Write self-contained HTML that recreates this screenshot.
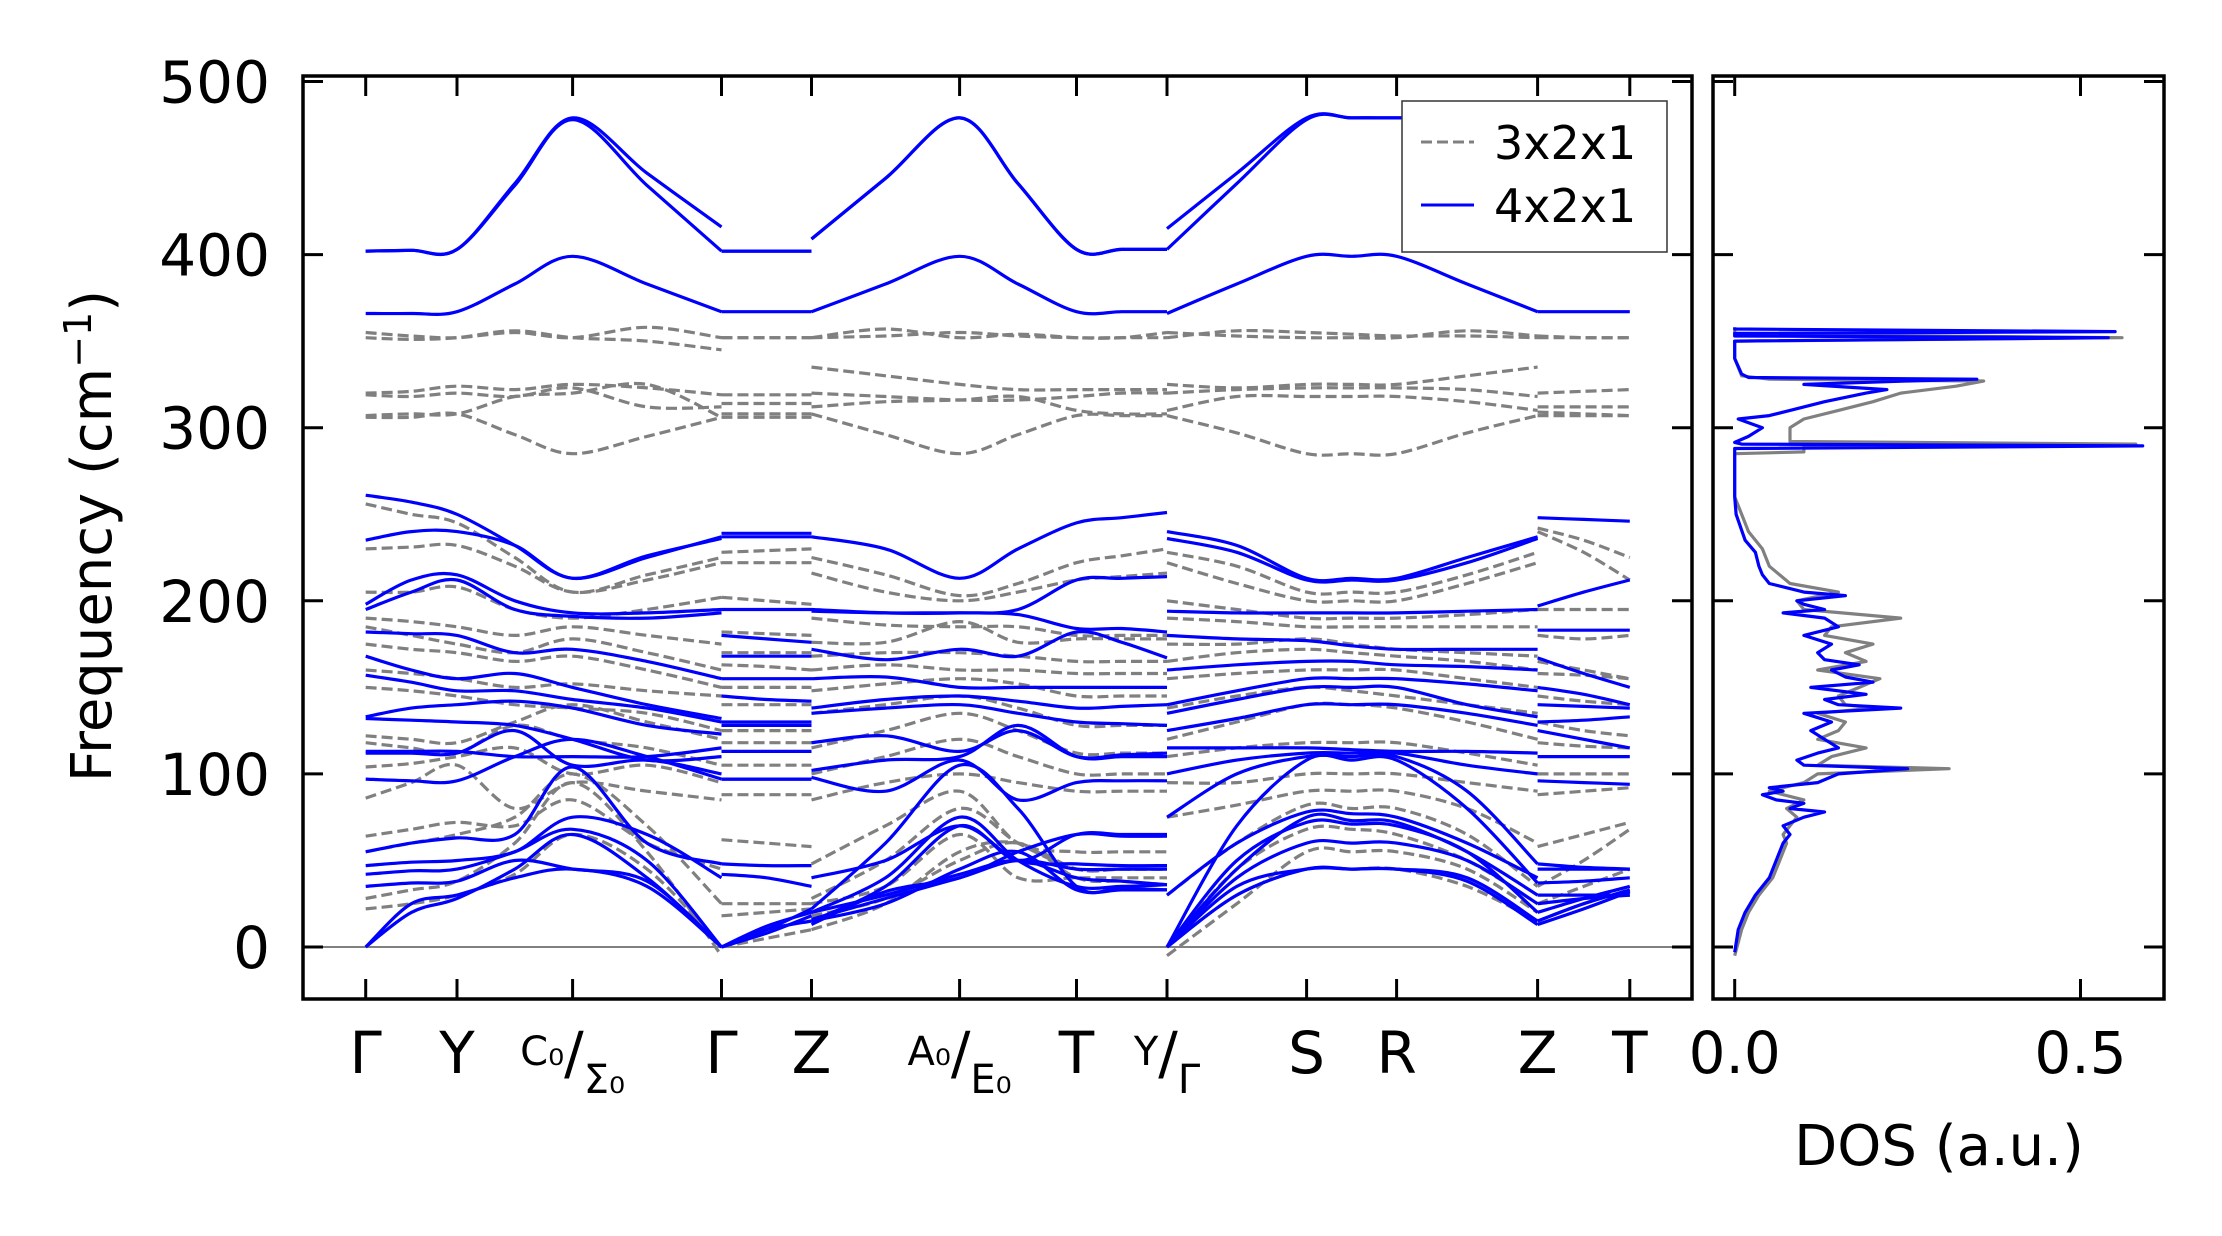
<!DOCTYPE html>
<html><head><meta charset="utf-8"><style>
html,body{margin:0;padding:0;background:#fff;}
svg{display:block;font-family:"DejaVu Sans","Liberation Sans",sans-serif;}
</style></head><body>
<svg id="chart" width="2222" height="1236" viewBox="0 0 2222 1236" xmlns="http://www.w3.org/2000/svg">
<rect x="0" y="0" width="2222" height="1236" fill="#fff"/>
<defs><clipPath id="bandclip"><rect x="303" y="76" width="1389" height="923"/></clipPath>
<clipPath id="dosclip"><rect x="1713" y="76" width="451" height="923"/></clipPath></defs>
<g id="bands" clip-path="url(#bandclip)"></g>
<g id="dos" clip-path="url(#dosclip)"></g>
<g id="axes"></g>
<g id="legend">
  <rect x="1402" y="101" width="265" height="151" fill="#fff" stroke="#333" stroke-width="1.5"/>
  <line x1="1421" y1="142" x2="1474" y2="142" stroke="#808080" stroke-width="3" stroke-dasharray="11,5"/>
  <text x="1494" y="159" font-size="46">3x2x1</text>
  <line x1="1421" y1="205" x2="1474" y2="205" stroke="#0000ff" stroke-width="3"/>
  <text x="1494" y="222" font-size="46">4x2x1</text>
</g>
<text x="0" y="0" font-size="56" text-anchor="middle" transform="translate(111,536) rotate(-90)">Frequency (cm<tspan dy="-20" font-size="38">−1</tspan><tspan dy="20">)</tspan></text>
<text x="1939" y="1165" font-size="56" text-anchor="middle">DOS (a.u.)</text>
</svg>
<script>
// ---- data ----
const yTicks = [0,100,200,300,400,500];
const kLabels = ["Γ","Y","C/Σ","Γ","Z","A/E","T","Y/Γ","S","R","Z","T"];
const kTickX = [365.7,457,572.6,721.5,811.5,959.6,1076.5,1167,1306.6,1396.6,1537.6,1629.8];
const segKs = [[0,0.5,1,1.5,2,2.5,3],[3,3.5,4],[4,4.5,5,5.5,6,6.5,7],[7,7.5,8,8.5,9,9.5,10],[10,10.5,11]];
const blueBands = [
[402,402.5,403,441,479,447,416, 402,402,402, 409,444,479,441,403,403,403, 415,447,479,479,479,479,479, 479,479,479],
[402,402.5,403,440,478,440,402, 402,402,402, 409,444,479,441,403,403,403, 403,441,478,479,479,479,479, 479,479,479],
[366,366,367,383,399,383,367, 367,367,367, 367,383,399,383,367,367,367, 366,383,399,399,399,383,367, 367,367,367],
[261,257,250,232,213,225,237, 239,239,239, 237,230,213,230,245,248,251, 240,232,213,213,213,225,237, 248,247,246],
[235,240,240,232,213,226,236, 237,237,237, 195,193,193,195,212,213,214, 236,228,212,212,212,222,236, 197,205,212],
[198,212,215,200,193,193,195, 195,195,195, 194,193,193,192,184,184,182, 194,193,193,193,193,194,195, 183,183,183],
[195,205,212,195,191,190,193, 180,178,176, 172,166,172,168,182,176,167, 180,178,177,174,172,172,172, 167,158,150],
[182,181,180,170,172,165,155, 168,168,168, 155,156,150,150,150,150,150, 160,163,165,165,163,162,160, 150,146,140],
[168,160,155,158,150,140,132, 155,155,155, 138,143,145,142,138,139,140, 140,148,155,155,155,152,148, 140,139,138],
[157,153,148,148,143,138,130, 145,143,142, 135,138,140,135,130,129,128, 135,143,150,150,150,140,133, 130,131,133],
[133,138,140,142,138,128,123, 130,130,130, 118,122,113,125,110,111,112, 125,132,140,140,140,135,128, 125,120,115],
[132,131,130,128,120,108,110, 128,128,128, 102,108,110,128,110,110,110, 115,115,115,114,113,113,112, 110,110,110],
[113,113,113,110,110,110,115, 113,113,113, 98,90,108,85,95,96,96, 100,108,112,112,112,105,100, 96,95,94],
[112,112,112,125,105,108,100, 97,97,97, 22,60,105,80,35,34,33, 75,100,110,110,110,90,48, 48,46,45],
[97,96,96,110,120,110,97, 97,97,97, 20,40,75,50,35,35,36, 0,70,108,108,108,80,37, 37,38,40],
[55,60,63,65,104,60,48, 48,47,47, 40,50,70,50,48,47,47, 30,60,78,77,75,60,40, 45,45,45],
[47,49,50,55,75,65,40, 42,40,35, 15,35,70,50,65,65,65, 0,50,72,71,70,55,20, 20,28,35],
[42,44,45,55,68,50,0, 0,10,15, 15,25,45,55,33,33,33, 0,30,45,45,45,40,15, 15,25,33],
[35,37,38,50,45,38,0, 0,12,20, 20,30,42,50,40,38,36, 0,35,45,45,45,38,13, 13,22,32],
[0,25,30,40,45,35,0, 0,10,22, 13,32,40,55,65,64,64, 0,40,60,60,60,50,25, 25,28,30],
[0,20,28,45,65,40,0, 0,8,18, 16,28,40,50,45,45,45, 0,45,75,73,72,55,30, 30,30,30]
];
const grayBands = [
[355,353,352,355,352,358,352, 352,352,352, 352,357,352,354,352,352,355, 355,353,352,352,352,356,353, 353,352,352],
[352,351,352,356,352,350,345, 352,352,352, 352,353,355,353,352,352,352, 352,356,355,354,353,353,352, 352,352,352],
[320,321,324,322,325,323,319, 319,319,319, 335,330,325,322,322,322,322, 325,323,325,325,325,330,335, 320,321,322],
[319,318,320,318,323,312,312, 314,314,314, 320,318,316,316,318,320,320, 320,322,323,323,323,322,318, 312,312,312],
[307,308,308,318,320,325,306, 308,308,308, 312,315,316,318,310,308,308, 310,318,318,318,318,315,310, 309,308,307],
[306,306,308,296,285,295,306, 306,306,306, 308,296,285,296,307,307,307, 307,297,285,285,285,297,307, 307,307,307],
[256,250,245,225,205,215,225, 228,229,230, 225,215,203,210,222,226,230, 228,220,205,205,205,215,228, 242,235,225],
[230,231,232,220,205,212,222, 222,222,222, 216,205,200,205,212,214,216, 222,210,200,200,200,210,222, 240,228,212],
[205,205,208,195,190,195,202, 202,200,198, 190,186,185,185,180,180,180, 200,195,190,190,190,192,195, 195,195,195],
[190,188,185,180,185,180,175, 182,181,180, 176,176,188,176,178,178,178, 190,188,185,185,185,185,185, 180,178,180],
[185,180,175,170,178,170,160, 170,170,170, 168,170,170,168,165,165,165, 175,175,178,175,172,170,168, 165,160,155],
[175,172,170,165,168,160,150, 163,162,160, 160,163,160,160,158,158,158, 165,170,172,170,168,165,160, 158,157,155],
[160,158,155,150,152,148,145, 150,150,150, 148,152,155,152,145,145,145, 155,158,160,160,160,155,150, 145,142,140],
[150,148,145,140,138,135,125, 140,140,140, 135,140,145,138,128,128,128, 138,145,150,148,145,140,135, 130,125,122],
[122,120,118,130,140,130,120, 125,125,125, 115,125,135,125,112,112,112, 120,130,140,140,138,130,120, 118,116,115],
[118,115,112,128,120,115,105, 118,118,118, 100,110,120,110,100,100,100, 110,115,118,118,118,112,105, 100,100,100],
[104,106,110,115,100,105,95, 105,105,105, 85,95,100,95,90,90,90, 95,95,100,100,100,95,90, 88,90,92],
[86,95,105,80,95,90,85, 88,88,88, 48,70,90,60,55,55,55, 75,82,90,90,90,80,60, 58,65,72],
[64,68,72,70,85,60,45, 62,60,58, 28,50,80,60,45,45,45, 30,60,82,80,80,65,35, 35,50,68],
[55,60,65,75,100,70,25, 25,25,25, 25,35,65,40,40,40,40, 0,45,68,68,65,50,25, 25,35,45],
[28,33,38,60,95,55,-5, 18,20,22, 18,28,50,60,40,38,36, -5,25,55,55,55,45,20, 20,28,35],
[22,25,30,42,65,45,0, 0,5,10, 10,25,55,60,45,45,45, 0,30,45,45,45,35,15, 15,25,33]
];
const dosFreqBlue = [-3,10,20,30,40,50,60,65,70,75,78,80,83,85,88,90,92,95,100,103,105,108,112,115,120,125,130,135,138,140,143,146,150,153,156,160,163,166,170,175,180,185,190,193,195,198,200,203,205,210,215,220,228,235,250,260,288,289.5,290.5,291.5,295,300,305,307,310,315,320,322,325,327,328,329,331,340,350,352,353,354.5,355.5,357,358];
const dosValBlue  = [0,0.005,0.015,0.03,0.05,0.06,0.07,0.08,0.07,0.1,0.13,0.08,0.1,0.06,0.04,0.07,0.05,0.12,0.15,0.25,0.1,0.09,0.12,0.15,0.13,0.11,0.14,0.1,0.24,0.15,0.13,0.19,0.11,0.2,0.16,0.14,0.18,0.13,0.12,0.14,0.1,0.15,0.13,0.07,0.13,0.1,0.09,0.16,0.1,0.05,0.04,0.035,0.03,0.015,0.002,0,0,0.59,0.01,0.0,0.02,0.04,0.005,0.05,0.08,0.13,0.19,0.22,0.1,0.25,0.35,0.02,0.01,0,0,0.54,0.0,0.0,0.55,0.0,0.0];
const dosFreqGray = [-5,10,20,30,40,50,60,65,70,75,80,85,90,95,100,103,105,110,115,120,125,130,135,138,140,145,150,155,160,165,170,175,180,185,190,195,200,205,210,220,230,240,255,260,285,286,289,290.5,292,300,305,310,315,320,324,327,328,330,340,350,352,354,355,357];
const dosValGray  = [0,0.01,0.02,0.035,0.055,0.065,0.075,0.07,0.08,0.09,0.075,0.1,0.05,0.1,0.12,0.31,0.12,0.14,0.19,0.12,0.15,0.16,0.12,0.2,0.16,0.15,0.18,0.21,0.12,0.19,0.16,0.2,0.13,0.14,0.24,0.1,0.09,0.15,0.08,0.05,0.04,0.02,0.005,0,0,0.1,0.1,0.58,0.08,0.08,0.1,0.15,0.2,0.24,0.32,0.36,0.05,0.01,0,0,0.56,0.0,0.0,0.0];
const dosTickVals = [0.0,0.5];
const dosTickLabels = ["0.0","0.5"];

// ---- scales ----
const Y0 = 947, Y100 = 173.1;
function yS(f){ return Y0 - f*Y100/100; }
function kX(k){ const i=Math.floor(k); if(i>=kTickX.length-1) return kTickX[kTickX.length-1]; const t=k-i; return kTickX[i]+(kTickX[i+1]-kTickX[i])*t; }
function dX(v){ return 1734.7 + v*691.6; }
const NS="http://www.w3.org/2000/svg";
function mk(tag,attrs,parent){ const e=document.createElementNS(NS,tag); for(const a in attrs) e.setAttribute(a,attrs[a]); parent.appendChild(e); return e; }
function smooth(pts){
  let d="M"+pts[0][0].toFixed(1)+","+pts[0][1].toFixed(1);
  for(let i=0;i<pts.length-1;i++){
    const p0=pts[Math.max(i-1,0)],p1=pts[i],p2=pts[i+1],p3=pts[Math.min(i+2,pts.length-1)];
    const c1=[p1[0]+(p2[0]-p0[0])/6,p1[1]+(p2[1]-p0[1])/6], c2=[p2[0]-(p3[0]-p1[0])/6,p2[1]-(p3[1]-p1[1])/6];
    d+="C"+c1[0].toFixed(1)+","+c1[1].toFixed(1)+" "+c2[0].toFixed(1)+","+c2[1].toFixed(1)+" "+p2[0].toFixed(1)+","+p2[1].toFixed(1);
  }
  return d;
}
const gB=document.getElementById('bands');
const zl=mk('line',{x1:303,x2:1692,y1:yS(0),y2:yS(0),stroke:'#808080','stroke-width':2},gB);


function drawBands(bands,color,dash,name){
  bands.forEach((vals,bi)=>{
    let idx=0;
    segKs.forEach((ks,si)=>{
      const pts=ks.map((k,j)=>[kX(k),yS(vals[idx+j])]);
      idx+=ks.length;
      const attrs={d:smooth(pts),fill:'none',stroke:color,'stroke-width':3.2,'stroke-linejoin':'round'};
      if(dash) attrs['stroke-dasharray']=dash;
      const p=mk('path',attrs,gB);
      
      
    });
  });
}
drawBands(grayBands,'#808080','11,5','gray-3x2x1');
drawBands(blueBands,'#0000ff',null,'blue-4x2x1');

const gD=document.getElementById('dos');
function drawDos(fr,vals,color,name){
  const pts=fr.map((f,i)=>dX(vals[i]).toFixed(1)+","+yS(f).toFixed(1)).join(" ");
  const p=mk('polyline',{points:pts,fill:'none',stroke:color,'stroke-width':3.2,'stroke-linejoin':'round'},gD);
  
  
}
drawDos(dosFreqGray,dosValGray,'#808080','dos-3x2x1');
drawDos(dosFreqBlue,dosValBlue,'#0000ff','dos-4x2x1');

const gA=document.getElementById('axes');
const f1=mk('rect',{x:303,y:76,width:1389,height:923,fill:'none',stroke:'#000','stroke-width':3.5},gA);


const f2=mk('rect',{x:1713,y:76,width:451,height:923,fill:'none',stroke:'#000','stroke-width':3.5},gA);


yTicks.forEach(v=>{
  const y=yS(v);
  [[303,323],[1672,1692],[1713,1733],[2144,2164]].forEach(([a,b])=>{
    const t=mk('line',{x1:a,x2:b,y1:y,y2:y,stroke:'#000','stroke-width':3},gA);
    
    
  });
  const tl=mk('text',{x:270,y:y+21,'font-size':58,'text-anchor':'end'},gA);
  tl.textContent=String(v);
  
  
});
kTickX.forEach((x,i)=>{
  [[76,96],[979,999]].forEach(([a,b])=>{
    const t=mk('line',{x1:x,x2:x,y1:a,y2:b,stroke:'#000','stroke-width':3},gA);
    
    
  });
  const lab=kLabels[i];
  const t=mk('text',{x:x,y:1073,'font-size':58,'text-anchor':'middle'},gA);
  
  
  if(lab.indexOf('/')>=0){
    const [a,b]=lab.split('/');
    const sub = a==='C'||a==='A';
    const s1=mk('tspan',{'font-size':40,dy:-8},t); s1.textContent=a+(sub?'₀':'');
    const s2=mk('tspan',{'font-size':58,dy:8},t); s2.textContent='/';
    const s3=mk('tspan',{'font-size':40,dy:20},t); s3.textContent=b+(sub?'₀':'');
  } else t.textContent=lab;
});
dosTickVals.forEach((v,i)=>{
  const x=dX(v);
  [[76,96],[979,999]].forEach(([a,b])=>{
    const t=mk('line',{x1:x,x2:x,y1:a,y2:b,stroke:'#000','stroke-width':3},gA);
    
    
  });
  const tl=mk('text',{x:x,y:1073,'font-size':58,'text-anchor':'middle'},gA);
  tl.textContent=dosTickLabels[i];
  
  
});
</script>
</body></html>
